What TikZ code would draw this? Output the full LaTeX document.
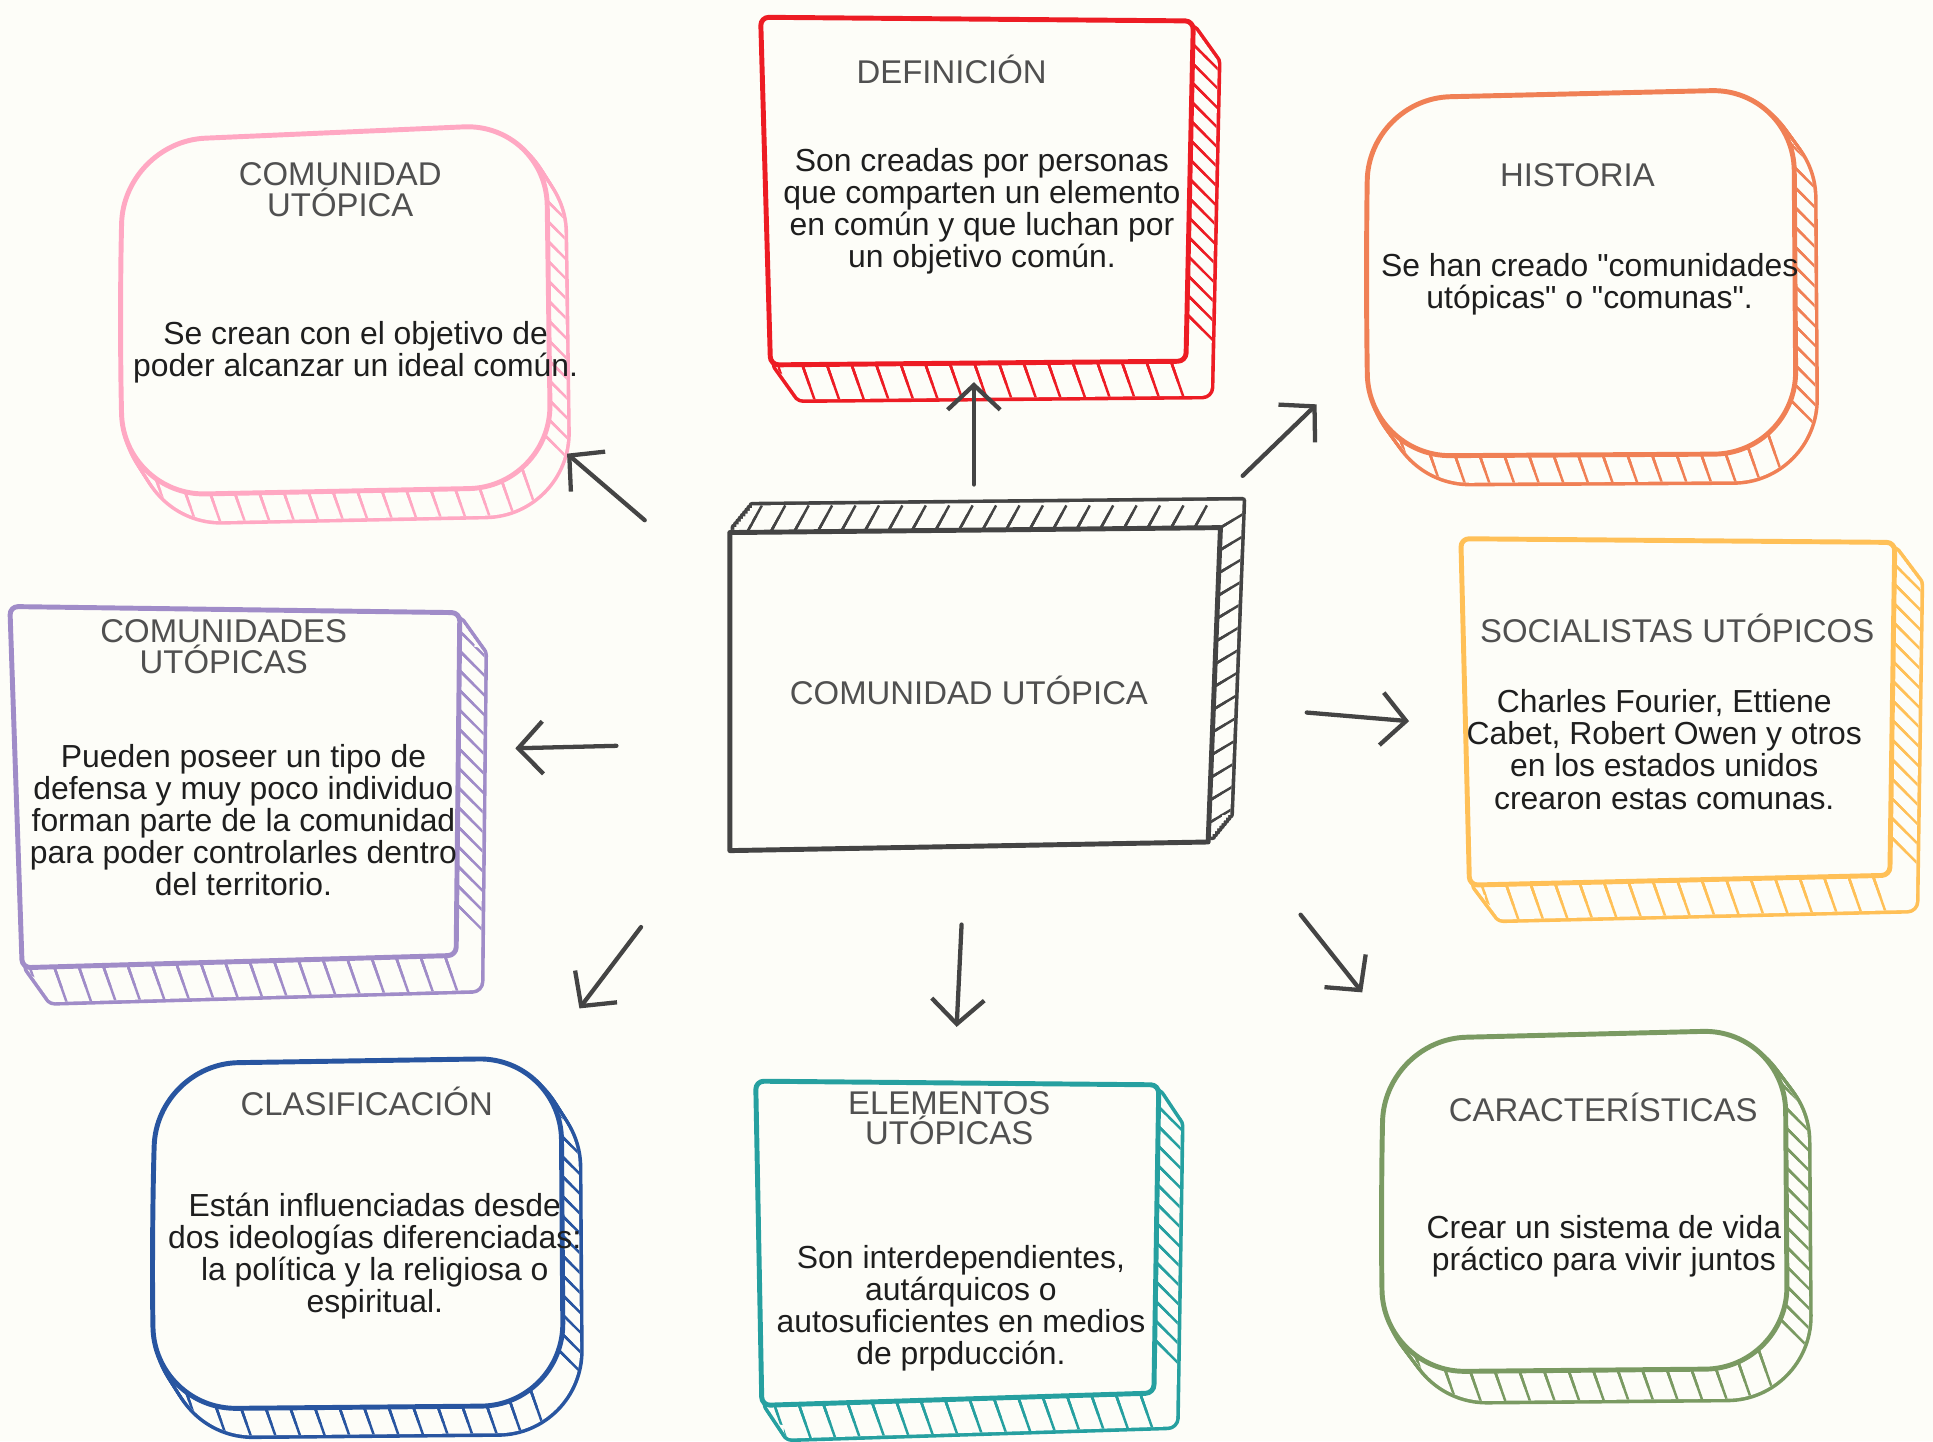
\documentclass[tikz,border=0pt]{standalone}
\usepackage{fontspec}
\newfontfamily\boxfont{Liberation Sans}
\usetikzlibrary{arrows.meta}

\definecolor{paper}{RGB}{253,253,248}
\definecolor{pinkline}{RGB}{255,168,195}
\definecolor{redline}{RGB}{237,28,36}
\definecolor{orangeline}{RGB}{240,128,85}
\definecolor{yellowline}{RGB}{255,192,87}
\definecolor{greenline}{RGB}{122,154,98}
\definecolor{tealline}{RGB}{38,160,160}
\definecolor{blueline}{RGB}{40,85,160}
\definecolor{purpleline}{RGB}{160,140,200}
\definecolor{linkgray}{RGB}{68,68,68}
\definecolor{titlegray}{RGB}{80,80,80}
\definecolor{bodyblack}{RGB}{30,30,30}

\tikzset{
  outline/.style={line width=3pt, line join=round},
  sweepline/.style={line width=4.4pt, line join=round},
  hatchline/.style={line width=1.5pt},
  titletext/.style={inner sep=0pt, align=center, text=titlegray, font=\boxfont\fontsize{20}{18.8}\selectfont},
  bodytext/.style={inner sep=0pt, align=center, text=bodyblack, font=\boxfont\fontsize{19.4}{19.5}\selectfont},
  linkarrow/.style={draw=linkgray, line width=2.6pt, line cap=round, -{Straight Barb[length=15pt,width=32pt,line width=2.6pt]}},
}

% #1 colour, #2 corner radius, #3 front path, #4 #5 depth, #6 #7 left/right x, #8 #9 top/bottom y
\newcommand{\sketchbox}[9]{%
  \foreach \s in {2,...,10}
    \draw[#1,sweepline,shift={(\s*#4/10,\s*#5/10)},rounded corners=#2] #3;
  \foreach \s in {0,...,10}
    \fill[paper,shift={(\s*#4/10,\s*#5/10)},rounded corners=#2] #3;
  \foreach \s in {3,6,10} {
    \begin{scope}
      \clip[shift={(\s*#4/10,\s*#5/10)},rounded corners=#2] #3;
      \pgfmathtruncatemacro{\nbot}{(#7-#6)/20-1}
      \pgfmathtruncatemacro{\nside}{(#9-#8)/16-2}
      \foreach \i in {0,...,\nbot}
        \draw[#1,hatchline] ({#6+\i*20},{#9-30}) -- ++({0.35*(#5+40)},{#5+40});
      \foreach \j in {0,...,\nside}
        \draw[#1,hatchline] ({#7-30},{#8+\j*16-30}) -- ++({#4+40},{#4+40});
    \end{scope}
  }
  \fill[paper,rounded corners=#2] #3;
  \draw[#1,outline,rounded corners=#2] #3;
}

\begin{document}
\begin{tikzpicture}[x=0.75pt,y=0.75pt,yscale=-1,xscale=1]
\fill[paper] (0,0) rectangle (1568,1169);
\useasboundingbox (0,0) rectangle (1568,1169);

%Shape: pink box
\sketchbox{pinkline}{50}{(97,260) -- (100,115) -- (443,100) -- (447,395) -- (100,402) -- cycle}{14}{22}{100}{445}{100}{400}
%Shape: red box
\sketchbox{redline}{5}{(617,14) -- (968,17) -- (962,293) -- (625,296) -- cycle}{20}{28}{620}{965}{17}{295}
%Shape: orange box
\sketchbox{orangeline}{50}{(1108,220) -- (1110,80) -- (1455,72) -- (1457,368) -- (1110,370) -- cycle}{16}{22}{1110}{1456}{72}{370}
%Shape: yellow box
\sketchbox{yellowline}{5}{(1185,437) -- (1537,440) -- (1533,710) -- (1192,718) -- cycle}{21}{28}{1190}{1535}{440}{714}
%Shape: green box
\sketchbox{greenline}{50}{(1120,975) -- (1123,843) -- (1448,835) -- (1450,1110) -- (1122,1113) -- cycle}{18}{24}{1122}{1449}{835}{1112}
%Shape: teal box
\sketchbox{tealline}{5}{(613,877) -- (940,880) -- (936,1130) -- (618,1140) -- cycle}{18}{27}{616}{938}{880}{1135}
%Shape: blue box
\sketchbox{blueline}{50}{(123,1000) -- (127,863) -- (455,858) -- (457,1140) -- (125,1143) -- cycle}{14}{22}{125}{456}{858}{1142}
%Shape: purple box
\sketchbox{purpleline}{5}{(8,492) -- (373,497) -- (370,775) -- (18,785) -- cycle}{20}{28}{12}{372}{495}{780}

%Shape: centre box (extruded up and right)
\foreach \s in {2,...,10}
  \draw[linkgray,sweepline,shift={(\s*1.8,-\s*2.2)}] (592,432) -- (990,428) -- (980,683) -- (592,690) -- cycle;
\foreach \s in {0,...,10}
  \fill[paper,shift={(\s*1.8,-\s*2.2)}] (592,432) -- (990,428) -- (980,683) -- (592,690) -- cycle;
\foreach \s in {3,6,10} {
  \begin{scope}
    \clip[shift={(\s*1.8,-\s*2.2)}] (592,432) -- (990,428) -- (980,683) -- (592,690) -- cycle;
    \foreach \hx in {596,615,...,970} \draw[linkgray,hatchline] (\hx,450) -- ++(22,-40);
    \foreach \hy in {440,458,...,710} \draw[linkgray,hatchline] (970,\hy) -- ++(45,-27);
  \end{scope}
}
\fill[paper] (592,432) -- (990,428) -- (980,683) -- (592,690) -- cycle;
\draw[linkgray,outline] (592,432) -- (990,428) -- (980,683) -- (592,690) -- cycle;

% Text Node
\draw (786,560) node [titletext] (centreTitle) {COMUNIDAD UTÓPICA};
% Text Node
\draw (276,154) node [titletext] (pinkTitle) {COMUNIDAD\\UTÓPICA};
\draw (288.5,285.5) node [bodytext] (pinkBody) {Se crean con el objetivo de\\poder alcanzar un ideal común.};
% Text Node
\draw (772,56) node [titletext] (redTitle) {DEFINICIÓN};
\draw (796.5,171.5) node [bodytext] (redBody) {Son creadas por personas\\que comparten un elemento\\en común y que luchan por\\un objetivo común.};
% Text Node
\draw (1279.5,142) node [titletext] (orangeTitle) {HISTORIA};
\draw (1289.5,230.5) node [bodytext] (orangeBody) {Se han creado "comunidades\\utópicas" o "comunas".};
% Text Node
\draw (1360.5,510) node [titletext] (yellowTitle) {SOCIALISTAS UTÓPICOS};
\draw (1350,608) node [bodytext] (yellowBody) {Charles Fourier, Ettiene\\Cabet, Robert Owen y otros\\en los estados unidos\\crearon estas comunas.};
% Text Node
\draw (1300.5,898.5) node [titletext] (greenTitle) {CARACTERÍSTICAS};
\draw (1301,1011) node [bodytext] (greenBody) {Crear un sistema de vida\\práctico para vivir juntos};
% Text Node
\draw (770,907) node [titletext] (tealTitle) {ELEMENTOS\\UTÓPICAS};
\draw (779.5,1061.5) node [bodytext] (tealBody) {Son interdependientes,\\autárquicos o\\autosuficientes en medios\\de prpducción.};
% Text Node
\draw (297.5,893.5) node [titletext] (blueTitle) {CLASIFICACIÓN};
\draw (304,1019) node [bodytext] (blueBody) {Están influenciadas desde\\dos ideologías diferenciadas:\\la política y la religiosa o\\espiritual.};
% Text Node
\draw (181.5,524.5) node [titletext] (purpleTitle) {COMUNIDADES\\UTÓPICAS};
\draw (197.5,665.5) node [bodytext] (purpleBody) {Pueden poseer un tipo de\\defensa y muy poco individuo\\forman parte de la comunidad\\para poder controlarles dentro\\del territorio.};

%Straight Lines: links
\coordinate (pinkTail) at (523,422);   \coordinate (pinkHead) at (460,368);
\coordinate (redTail) at (790,393);    \coordinate (redHead) at (790,310);
\coordinate (orangeTail) at (1008,386); \coordinate (orangeHead) at (1068,328);
\coordinate (yellowTail) at (1060,578); \coordinate (yellowHead) at (1143,585);
\coordinate (greenTail) at (1055,742); \coordinate (greenHead) at (1105,805);
\coordinate (tealTail) at (780,750);   \coordinate (tealHead) at (776,833);
\coordinate (blueTail) at (520,752);   \coordinate (blueHead) at (470,818);
\coordinate (purpleTail) at (500,605); \coordinate (purpleHead) at (418,607);
\draw [linkarrow] (pinkTail) -- (pinkHead);
\draw [linkarrow] (redTail) -- (redHead);
\draw [linkarrow] (orangeTail) -- (orangeHead);
\draw [linkarrow] (yellowTail) -- (yellowHead);
\draw [linkarrow] (greenTail) -- (greenHead);
\draw [linkarrow] (tealTail) -- (tealHead);
\draw [linkarrow] (blueTail) -- (blueHead);
\draw [linkarrow] (purpleTail) -- (purpleHead);

\end{tikzpicture}
\end{document}
